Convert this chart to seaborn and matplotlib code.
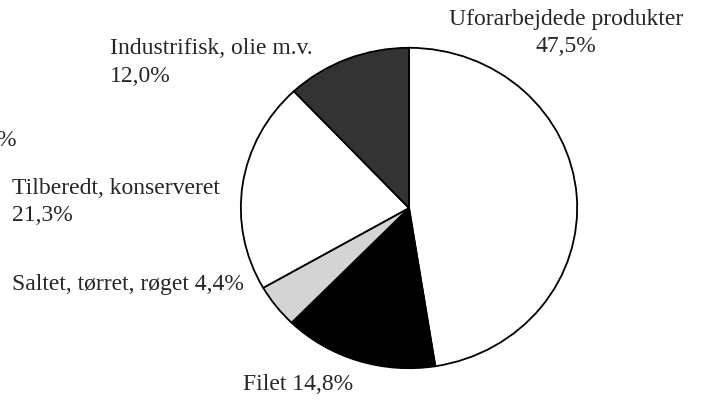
import matplotlib
matplotlib.use("Agg")
import matplotlib.pyplot as plt
import seaborn as sns

# data
categories = ["Uforarbejdede produkter", "Filet", "Saltet, tørret, røget",
              "Tilberedt, konserveret", "Industrifisk, olie m.v."]
shares = [47.5, 14.8, 4.4, 21.3, 12.0]
colors = ["#ffffff", "#000000", "#d4d4d4", "#ffffff", "#333333"]

sns.set_style("white")
plt.rcParams["font.family"] = ["Liberation Serif", "DejaVu Serif"]

W, H = 720, 406
fig = plt.figure(figsize=(7.2, 4.06), dpi=100)

# pie axes placed in pixel box (slightly wider than tall, like the original)
left, right, top, bottom = 240, 578, 48, 370
ax = fig.add_axes([left / W, 1 - bottom / H, (right - left) / W, (bottom - top) / H])
ax.pie(shares, colors=colors, startangle=90, counterclock=False,
       wedgeprops=dict(edgecolor="black", linewidth=1.3))
ax.set_aspect("auto")
ax.set_xlim(-1.005, 1.005)
ax.set_ylim(-1.005, 1.005)
ax.axis("off")


def fmt(v):
    return f"{v:.1f}".replace(".", ",") + "%"


fs = 17
def px(x, y, s, **kw):
    fig.text(x / W, 1 - y / H, s, fontsize=fs, **kw)

px(566, 19, categories[0], ha="center", va="center")
px(566, 47, fmt(shares[0]), ha="center", va="center")
px(110, 48, categories[4], ha="left", va="center")
px(110, 77, fmt(shares[4]), ha="left", va="center")
px(12, 189, categories[3], ha="left", va="center")
px(12, 216, fmt(shares[3]), ha="left", va="center")
px(12, 285, f"{categories[2]} {fmt(shares[2])}", ha="left", va="center")
px(243, 385, f"{categories[1]} {fmt(shares[1])}", ha="left", va="center")
# clipped label at the left edge of the original picture
px(-4, 140, "%", ha="left", va="center")

fig.savefig("out.png", dpi=100)
